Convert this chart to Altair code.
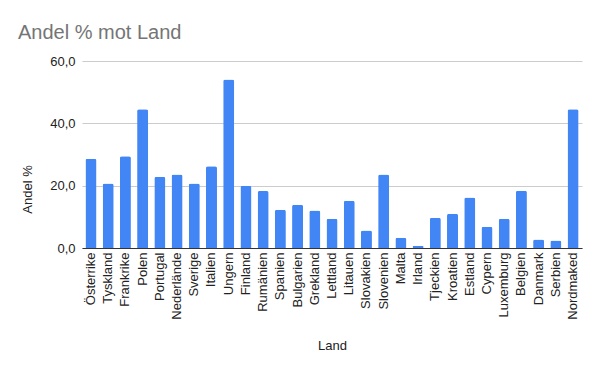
import altair as alt
import pandas as pd

countries = ["Österrike", "Tyskland", "Frankrike", "Polen", "Portugal", "Nederlände",
             "Sverige", "Italien", "Ungern", "Finland", "Rumänien", "Spanien",
             "Bulgarien", "Grekland", "Lettland", "Litauen", "Slovakien", "Slovenien",
             "Malta", "Irland", "Tjeckien", "Kroatien", "Estland", "Cypern",
             "Luxemburg", "Belgien", "Danmark", "Serbien", "Nordmaked"]
values = [28.6, 20.7, 29.4, 44.5, 22.9, 23.6, 20.7, 26.2, 54.1, 20.0, 18.3, 12.3,
          13.9, 12.0, 9.4, 15.2, 5.6, 23.6, 3.3, 0.7, 9.7, 11.0, 16.2, 6.8,
          9.4, 18.4, 2.7, 2.4, 44.5]
y_ticks = [0, 20, 40, 60]

df = pd.DataFrame({"Land": countries, "Andel %": values})

font = "Liberation Sans"

chart = alt.Chart(df).mark_bar(
    color="#4285f4", cornerRadiusTopLeft=2, cornerRadiusTopRight=2
).encode(
    x=alt.X("Land:N", sort=countries,
            scale=alt.Scale(paddingInner=0.36, paddingOuter=0.2),
            axis=alt.Axis(title="Land", labelAngle=-90, labelFont=font, labelFontSize=13,
                          labelColor="#222222", ticks=False, domainColor="#333333",
                          titleFont=font, titleFontSize=13, titleFontWeight="normal",
                          titleColor="#222222", titleY=97, titleBaseline="middle",
                          labelPadding=4, labelOverlap=False)),
    y=alt.Y("Andel %:Q",
            scale=alt.Scale(domain=[0, 60]),
            axis=alt.Axis(title="Andel %", values=y_ticks,
                          labelExpr="replace(format(datum.value, '.1f'), '.', ',')",
                          labelFont=font, labelFontSize=13, labelColor="#222222",
                          ticks=False, domain=False, gridColor="#cccccc",
                          labelPadding=7, titleFont=font, titleFontSize=13,
                          titleFontWeight="normal", titleColor="#222222",
                          titleX=-55, titleY=128, titleAngle=-90,
                          titleAlign="center", titleBaseline="middle")),
).properties(
    width=500, height=187,
    autosize=alt.AutoSizeParams(type="none"),
    padding={"left": 74, "top": 53, "right": 10, "bottom": 115},
    title=alt.TitleParams("Andel % mot Land", anchor="start", frame="group", dx=-64,
                          offset=12, font=font, fontSize=20, fontWeight="normal",
                          color="#757575"),
).configure_view(stroke=None)

chart.save("out.html", embed_options={"renderer": "svg", "actions": False})
